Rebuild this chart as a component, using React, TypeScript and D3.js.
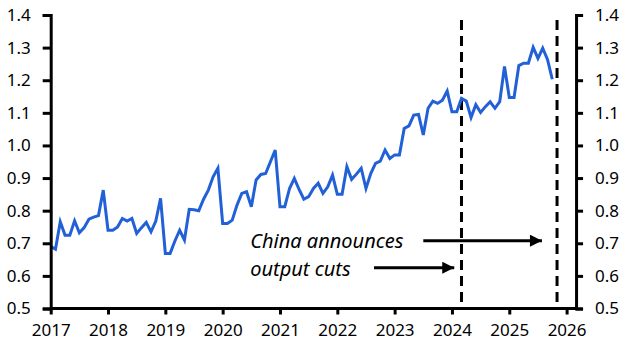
import React, { useRef, useEffect } from 'react';
import * as d3 from 'd3';

// monthly values, Jan 2017 .. Oct 2025
const startYear = 2017;
const values: number[] = [
  // 2017
  0.69, 0.682, 0.766, 0.725, 0.725, 0.769, 0.732, 0.748, 0.774, 0.78, 0.785, 0.863,
  // 2018
  0.74, 0.74, 0.75, 0.776, 0.768, 0.776, 0.73, 0.748, 0.764, 0.735, 0.768, 0.838,
  // 2019
  0.669, 0.669, 0.707, 0.74, 0.71, 0.804, 0.803, 0.8, 0.835, 0.863, 0.904, 0.93,
  // 2020
  0.761, 0.761, 0.771, 0.817, 0.853, 0.858, 0.812, 0.894, 0.911, 0.914, 0.95, 0.986,
  // 2021
  0.812, 0.812, 0.868, 0.899, 0.865, 0.835, 0.843, 0.868, 0.884, 0.853, 0.873, 0.909,
  // 2022
  0.85, 0.85, 0.935, 0.896, 0.912, 0.93, 0.868, 0.914, 0.945, 0.952, 0.986, 0.96,
  // 2023
  0.971, 0.971, 1.052, 1.06, 1.093, 1.095, 1.032, 1.114, 1.136, 1.129, 1.139, 1.167,
  // 2024
  1.103, 1.103, 1.144, 1.136, 1.086, 1.125, 1.101, 1.119, 1.134, 1.114, 1.134, 1.242,
  // 2025
  1.147, 1.147, 1.245, 1.252, 1.252, 1.301, 1.267, 1.298, 1.264, 1.203,
];

const yearTicks = [2017, 2018, 2019, 2020, 2021, 2022, 2023, 2024, 2025, 2026];
const valueTicks = [0.5, 0.6, 0.7, 0.8, 0.9, 1.0, 1.1, 1.2, 1.3, 1.4];

// vertical event markers (decimal years): Mar 2024, Nov 2025
const eventDates = [2024 + 2 / 12, 2025 + 10 / 12];
const labelLines = ['China announces', 'output cuts'];
// arrows: [fromYear, toYear, value]
const arrows: [number, number, number][] = [
  [2023.5, 2025.57, 0.708],
  [2022.64, 2024.04, 0.625],
];

const W = 634;
const H = 363;

const App: React.FC = () => {
  const ref = useRef<SVGSVGElement>(null);

  useEffect(() => {
    if (!ref.current) return;
    const svg = d3.select(ref.current);
    svg.selectAll('*').remove();

    const x = d3.scaleLinear().domain([2017, 2026]).range([50.7, 566.6]);
    const y = d3.scaleLinear().domain([0.5, 1.4]).range([308.5, 15]);
    const xRight = x(2026.165);
    const font = '"Noto Sans", "Open Sans", sans-serif';

    svg.append('defs')
      .append('marker')
      .attr('id', 'arrowhead')
      .attr('viewBox', '0 0 10 10')
      .attr('refX', 10)
      .attr('refY', 5)
      .attr('markerUnits', 'userSpaceOnUse')
      .attr('markerWidth', 13)
      .attr('markerHeight', 12)
      .attr('orient', 'auto')
      .append('path')
      .attr('d', 'M0,0L10,5L0,10Z')
      .attr('fill', '#000');

    // event dashed lines
    svg.selectAll('line.event')
      .data(eventDates)
      .enter()
      .append('line')
      .attr('class', 'event')
      .attr('x1', d => x(d))
      .attr('x2', d => x(d))
      .attr('y1', 20)
      .attr('y2', y(0.5))
      .attr('stroke', '#000')
      .attr('stroke-width', 3)
      .attr('stroke-dasharray', '10,6');

    // series
    const line = d3.line<number>()
      .x((_, i) => x(startYear + i / 12))
      .y(d => y(d));

    svg.append('path')
      .datum(values)
      .attr('fill', 'none')
      .attr('stroke', '#2160d6')
      .attr('stroke-width', 3)
      .attr('d', line);

    // left axis
    const left = svg.append('g')
      .attr('transform', `translate(${x(2017)},0)`)
      .call(d3.axisLeft(y).tickValues(valueTicks).tickFormat(d3.format('.1f')).tickSize(8).tickPadding(12));
    // right axis
    const right = svg.append('g')
      .attr('transform', `translate(${xRight},0)`)
      .call(d3.axisRight(y).tickValues(valueTicks).tickFormat(d3.format('.1f')).tickSize(7).tickPadding(12));
    // bottom axis
    const bottom = svg.append('g')
      .attr('transform', `translate(0,${y(0.5)})`)
      .call(d3.axisBottom(x).tickValues(yearTicks).tickFormat(d3.format('d')).tickSize(6).tickPadding(9));

    bottom.select('.domain').attr('d', `M${x(2017)},0H${xRight}`);

    [left, right, bottom].forEach(g => {
      g.selectAll('.domain').attr('stroke', '#000').attr('stroke-width', 3);
      g.selectAll('.tick line').attr('stroke', '#000').attr('stroke-width', 3);
      g.selectAll('.tick text')
        .attr('fill', '#000')
        .style('font-family', font)
        .style('font-size', '17px');
    });

    // annotation text
    svg.append('text')
      .attr('x', x(2020.48))
      .attr('y', 248)
      .style('font-family', font)
      .style('font-style', 'italic')
      .style('font-size', '20px')
      .attr('fill', '#000')
      .selectAll('tspan')
      .data(labelLines)
      .enter()
      .append('tspan')
      .attr('x', x(2020.48))
      .attr('dy', (_, i) => (i === 0 ? 0 : 28))
      .text(d => d);

    svg.selectAll('line.arrow')
      .data(arrows)
      .enter()
      .append('line')
      .attr('class', 'arrow')
      .attr('x1', d => x(d[0]))
      .attr('x2', d => x(d[1]))
      .attr('y1', d => y(d[2]))
      .attr('y2', d => y(d[2]))
      .attr('stroke', '#000')
      .attr('stroke-width', 3)
      .attr('marker-end', 'url(#arrowhead)');
  }, []);

  return (
    <svg
      ref={ref}
      width={W}
      height={H}
      viewBox={`0 0 ${W} ${H}`}
      style={{ position: 'absolute', left: 0, top: 0, background: '#fff' }}
    />
  );
};

export default App;
